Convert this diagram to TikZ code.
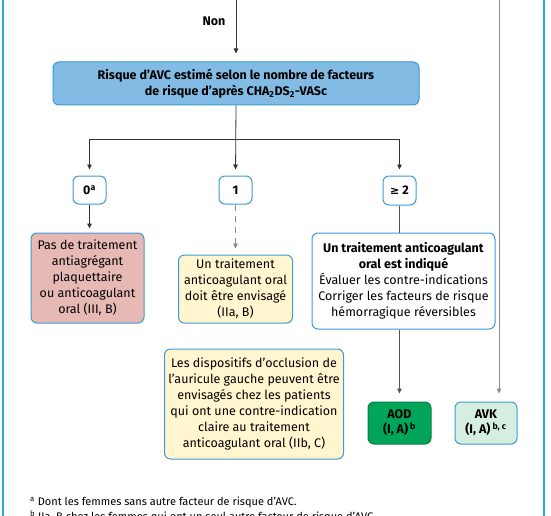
\documentclass[tikz,border=0pt]{standalone}
\usepackage{fontspec}
\setmainfont{Fira Sans}
\newfontfamily\symf{DejaVu Sans}
\usetikzlibrary{arrows.meta,backgrounds}
\definecolor{frameblue}{HTML}{2AA7E1}
\definecolor{boxblue}{HTML}{3C9BD6}
\definecolor{fillblue}{HTML}{82BBE3}
\definecolor{fillpink}{HTML}{E6B9B5}
\definecolor{fillyellow}{HTML}{FFF6CF}
\definecolor{fillgreen}{HTML}{00A55A}
\definecolor{bordergreen}{HTML}{0A7F45}
\definecolor{filllightgreen}{HTML}{D6EEE0}
\definecolor{linedark}{HTML}{333333}
\definecolor{linemid}{HTML}{555555}
\definecolor{linegray}{HTML}{8A8A8A}
\begin{document}
\begin{tikzpicture}[x=1pt,y=-1pt,
  txt/.style={font=\fontsize{12.5}{16}\selectfont, align=center, text=black},
  box/.style={txt, draw=boxblue, line width=1pt, rounded corners=6pt, inner sep=0pt},
  tip/.style={-{Triangle[length=5pt,width=4.5pt]}},
  ln/.style={draw=linedark, line width=0.8pt},
  arr/.style={ln, tip, shorten >=6pt},
  darr/.style={draw=linegray, line width=0.9pt, dash pattern=on 6pt off 5pt, tip, shorten >=6pt},
  gdash/.style={draw=linegray, line width=0.9pt, dash pattern=on 4pt off 3pt},
  fn/.style={font=\fontsize{11}{14}\selectfont, anchor=base west, inner sep=0pt}
]
\useasboundingbox (0,0) rectangle (551,516);
\fill[white] (0,0) rectangle (551,516);
% frame
\draw[frameblue, line width=2pt] (3,0) -- (3,516);
\draw[frameblue, line width=2pt] (544,0) -- (544,516);

% nodes
\node[box, fill=fillblue, minimum width=366pt, minimum height=43pt] (blue) at (236,83.5)
  {\textbf{Risque d’AVC estimé selon le nombre de facteurs}\\\textbf{de risque d’après CHA\textsubscript{2}DS\textsubscript{2}-VASc}};
\node[box, fill=white, minimum width=33pt, minimum height=28pt] (n0) at (89.5,190) {\textbf{0\textsuperscript{a}}};
\node[box, fill=white, minimum width=33pt, minimum height=28pt] (n1) at (235.5,190) {\textbf{1}};
\node[box, fill=white, minimum width=33pt, minimum height=29pt] (nge) at (399.5,190.5) {\textbf{{\symf\bfseries\fontsize{11}{12}\selectfont ≥} 2}};
\node[box, fill=fillpink, minimum width=113pt, minimum height=90pt] (pas) at (87.5,278)
  {Pas de traitement\\antiagrégant\\plaquettaire\\ou anticoagulant\\oral (III, B)};
\node[box, fill=fillyellow, minimum width=114pt, minimum height=68pt] (un1) at (235.5,289)
  {Un traitement\\anticoagulant oral\\doit être envisagé\\(IIa, B)};
\node[box, fill=white, minimum width=183pt, minimum height=96pt] (big) at (403.5,281)
  {\textbf{Un traitement anticoagulant}\\\textbf{oral est indiqué}\\Évaluer les contre-indications\\Corriger les facteurs de risque\\hémorragique réversibles};
\node[box, fill=fillyellow, minimum width=179pt, minimum height=110pt] (les) at (254,404)
  {Les dispositifs d’occlusion de\\l’auricule gauche peuvent être\\envisagés chez les patients\\qui ont une contre-indication\\claire au traitement\\anticoagulant oral (IIb, C)};
\node[txt, draw=bordergreen, fill=fillgreen, line width=1pt, rounded corners=6pt, inner sep=0pt,
  minimum width=63pt, minimum height=42pt, font=\fontsize{12.5}{15}\selectfont] (aod) at (399.5,423)
  {\textbf{AOD}\\\textbf{(I, A)\,\textsuperscript{b}}};
\node[box, fill=filllightgreen, minimum width=62pt, minimum height=42pt, font=\fontsize{12.5}{15}\selectfont] (avk) at (486,423)
  {\textbf{AVK}\\\textbf{(I, A)\,\textsuperscript{b, c}}};

% labels
\node[txt] (non) at (214,21) {\textbf{Non}};
\node[fn] (fn1) at (30,505) {\textsuperscript{a} Dont les femmes sans autre facteur de risque d’AVC.};
\node[fn] (fn2) at (30,520) {\textsuperscript{b} IIa, B chez les femmes qui ont un seul autre facteur de risque d’AVC.};

% coordinates
\coordinate (topin) at (236,0);
\coordinate (topr) at (499,0);
\coordinate (split) at (236,139);
\coordinate (dl) at (298,339);
\coordinate (dr) at (476,394);

% connectors
\begin{pgfonlayer}{background}
\draw[gdash, tip] ([xshift=-5pt]nge.south) -- (dl);
\draw[gdash, tip] ([xshift=3pt]nge.south) -- (dr);
\end{pgfonlayer}
\draw[arr, shorten >=8pt] (topin) -- (topin |- blue.north);
\draw[arr, draw=linegray, line width=1pt, shorten >=8pt] (topr) -- (topr |- avk.north);
\draw[arr] (blue.south) -- (n1.north);
\draw[ln] (n0.north |- split) -- (nge.north |- split);
\draw[arr] (n0.north |- split) -- (n0.north);
\draw[arr] (nge.north |- split) -- (nge.north);
\draw[arr, shorten >=4pt] (n0.south) -- (n0.south |- pas.north);
\draw[darr] (n1.south) -- (un1.north);
\draw[draw=linemid, line width=1.2pt] (nge.south) -- (nge.south |- big.north);
\draw[arr, draw=linemid, line width=1.2pt, shorten >=8pt] (big.south -| aod.north) -- (aod.north);
\end{tikzpicture}
\end{document}
